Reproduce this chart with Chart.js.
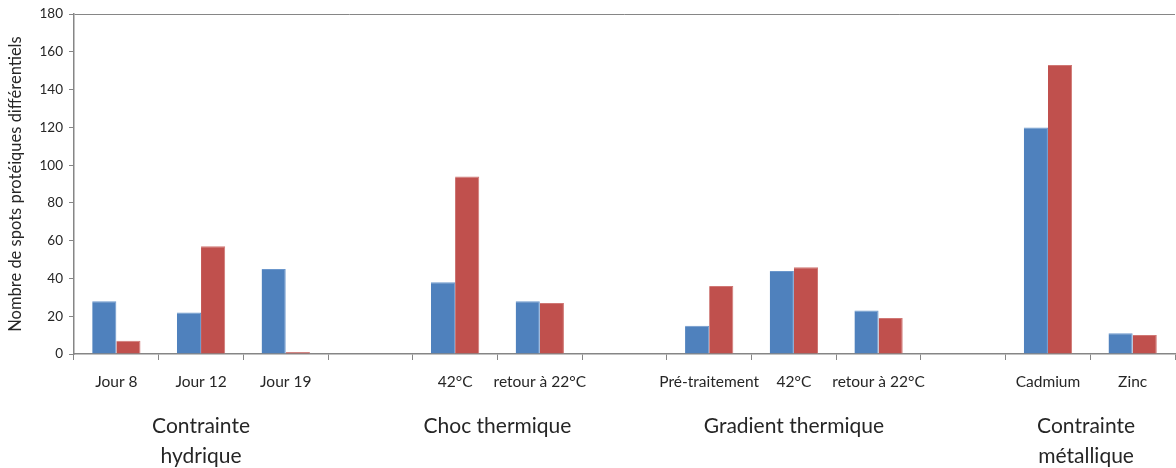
<!DOCTYPE html>
<html>
<head>
<meta charset="utf-8">
<script src="https://cdn.jsdelivr.net/npm/chart.js@4"></script>
<style>
  html, body { margin: 0; padding: 0; background: #fff; }
  #wrap { width: 1176px; height: 468px; }
</style>
</head>
<body>
<div id="wrap"><canvas id="chart"></canvas></div>
<script>
const categories = ["Jour 8", "Jour 12", "Jour 19", "", "42°C", "retour à 22°C", "",
    "Pré-traitement", "42°C", "retour à 22°C", "", "Cadmium", "Zinc"];
const blueValues = [28, 22, 45, null, 38, 28, null, 15, 44, 23, null, 120, 11];
const redValues = [7, 57, 1, null, 94, 27, null, 36, 46, 19, null, 153, 10];
const groupLabels = [["Contrainte", "hydrique"], ["Choc thermique"], ["Gradient thermique"], ["Contrainte", "métallique"]];
const groupCenters = [1, 4.5, 8, 11.45];
const yTitle = "Nombre de spots protéiques différentiels";

const axisColor = "#868686";
const textColor = "#262626";

// group labels below the category ticks
const groupPlugin = {
    id: "groups",
    afterDraw(chart) {
        const ctx = chart.ctx;
        const x = chart.scales.x;
        ctx.save();
        ctx.fillStyle = textColor;
        ctx.font = "21px Lato";
        ctx.textAlign = "center";
        ctx.textBaseline = "middle";
        groupLabels.forEach((lines, i) => {
            const cx = x.getPixelForValue(groupCenters[i]);
            lines.forEach((line, j) => {
                ctx.fillText(line, cx, 426 + j * 30);
            });
        });
        ctx.restore();
    }
};

new Chart(document.getElementById("chart"), {
    type: "bar",
    data: {
        labels: categories,
        datasets: [
            {
                data: blueValues,
                backgroundColor: "#4F81BD",
                borderColor: "#6b97cc",
                borderWidth: { left: 0, right: 1, top: 1, bottom: 0 }
            },
            {
                data: redValues,
                backgroundColor: "#C0504D",
                borderColor: "#d07774",
                borderWidth: { left: 0, right: 1, top: 1, bottom: 0 }
            }
        ]
    },
    options: {
        responsive: true,
        maintainAspectRatio: false,
        animation: false,
        layout: { padding: { left: 0, right: 1, top: 8, bottom: 0 } },
        categoryPercentage: 0.57,
        barPercentage: 1,
        plugins: {
            legend: { display: false },
            tooltip: { enabled: false }
        },
        scales: {
            x: {
                grid: {
                    drawOnChartArea: false,
                    tickLength: 6,
                    color: axisColor,
                    tickColor: axisColor
                },
                border: { color: axisColor, width: 1.5 },
                ticks: {
                    color: textColor,
                    font: { family: "Lato", size: 15.5 },
                    maxRotation: 0,
                    autoSkip: false,
                    padding: 13
                },
                afterFit(scale) { scale.height = 114; }
            },
            y: {
                min: 0,
                max: 180,
                ticks: {
                    stepSize: 20,
                    color: textColor,
                    font: { family: "Lato", size: 13.5 },
                    padding: 6
                },
                grid: {
                    color: (c) => c.tick && c.tick.value === 180 ? axisColor : "transparent",
                    tickColor: axisColor,
                    tickLength: 5
                },
                border: { color: axisColor, width: 1.5 },
                title: {
                    display: true,
                    text: yTitle,
                    color: textColor,
                    font: { family: "Lato", size: 16.5 },
                    padding: { top: 6, bottom: 2 }
                },
                afterFit(scale) { scale.width = 74; }
            }
        }
    },
    plugins: [groupPlugin]
});
</script>
</body>
</html>
